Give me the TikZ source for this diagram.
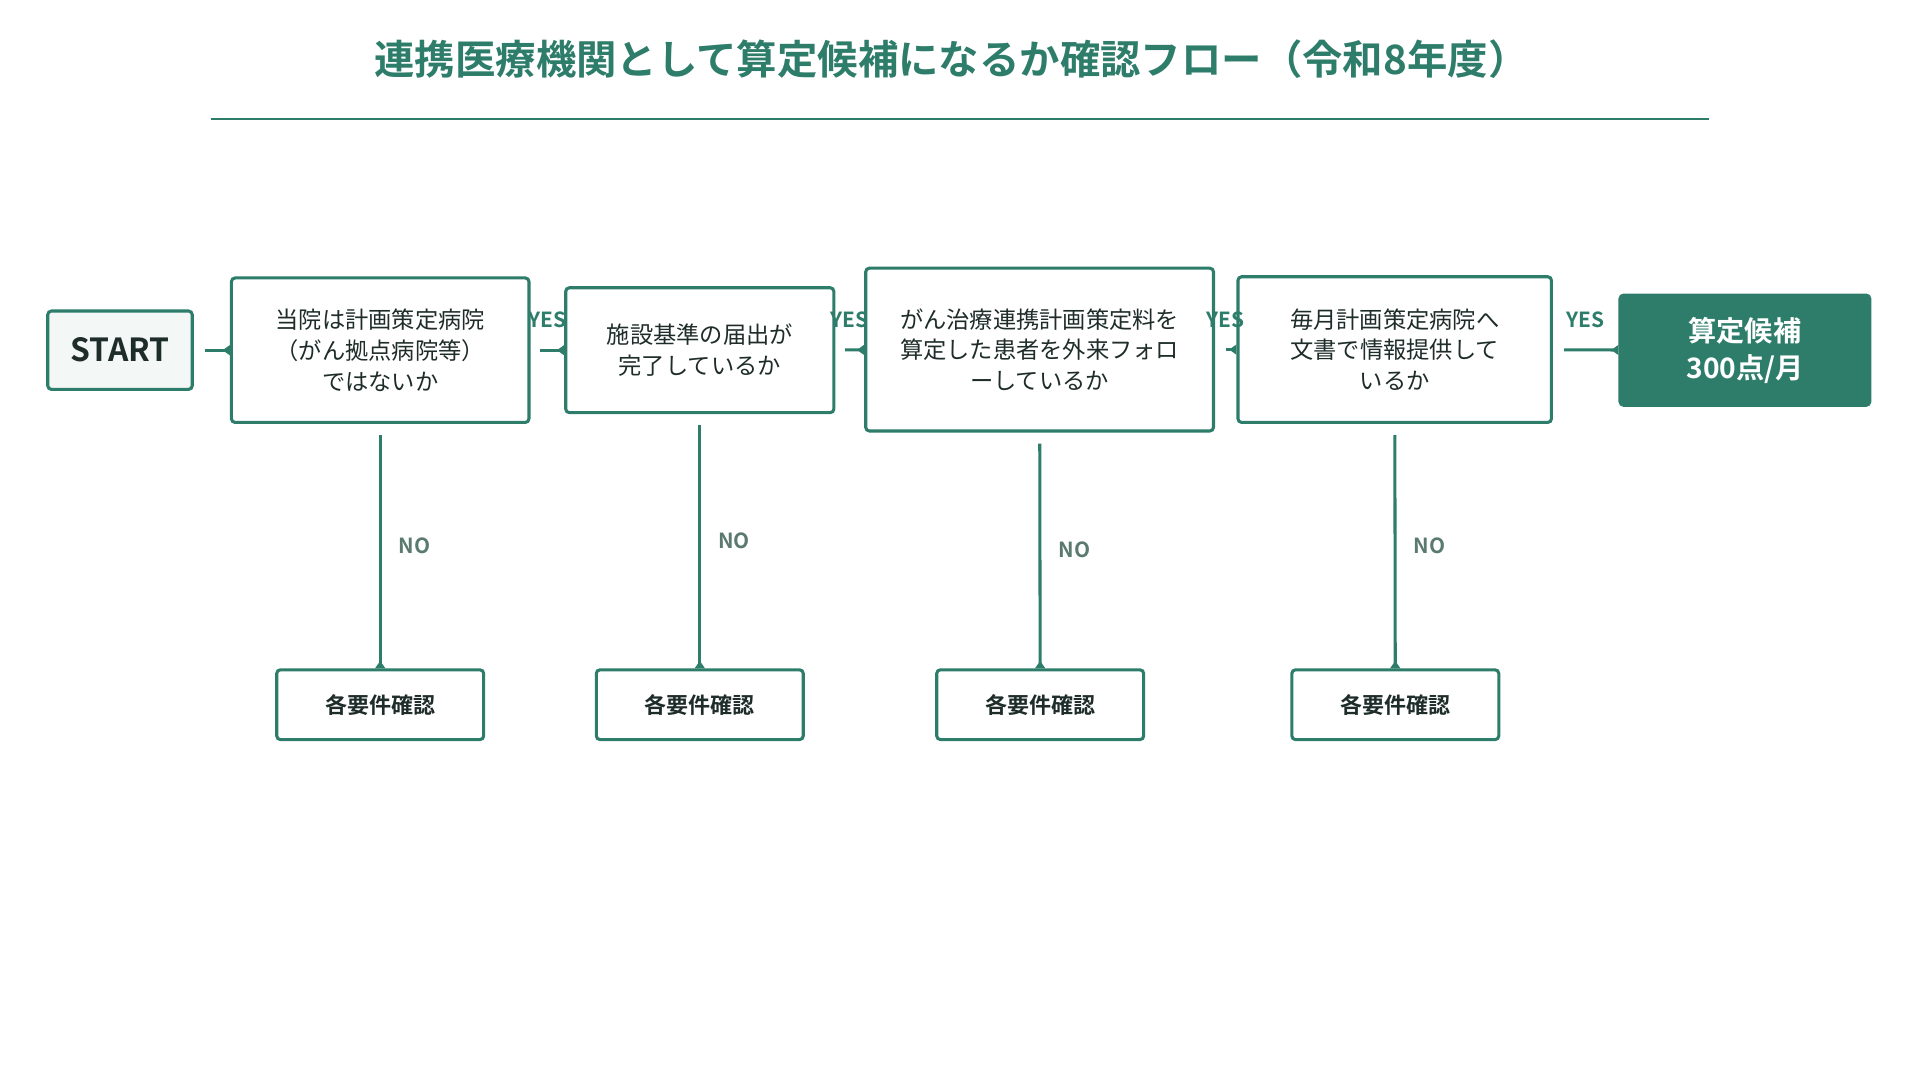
\documentclass[tikz,border=0pt]{standalone}
\usepackage{fontspec}
\setmainfont{Noto Sans CJK JP}
\newfontfamily\jpb{Noto Sans CJK JP Bold}
\usetikzlibrary{arrows.meta}
\definecolor{gr}{HTML}{2E7D6B}
\definecolor{dk}{HTML}{1F2D2A}
\definecolor{ng}{HTML}{5A7A70}
\definecolor{lt}{HTML}{F3F8F6}
\begin{document}
\begin{tikzpicture}[x=1pt,y=1pt,
 box/.style={draw=gr,line width=2.5pt,rounded corners=3pt,fill=white,align=center,text=dk,font=\fontsize{19}{25}\selectfont,inner sep=0pt},
 nob/.style={box,minimum width=169pt,minimum height=57pt,font=\jpb\fontsize{18}{22}\selectfont},
 con/.style={draw=gr,line width=2.5pt,-{Triangle[length=6pt,width=8pt,reversed]}},
 yes/.style={text=gr,font=\jpb\fontsize{17}{20}\selectfont},
 no/.style={text=ng,font=\jpb\fontsize{17}{20}\selectfont}]
\useasboundingbox (0,0) rectangle (1568,-882);
\node[text=gr,font=\jpb\fontsize{33}{40}\selectfont] (title) at (777,-48) {連携医療機関として算定候補になるか確認フロー（令和8年度）};
\coordinate (r1) at (172,-97); \coordinate (r2) at (1396,-97);
\draw[gr,line width=2pt] (r1) -- (r2);
\node[box,fill=lt,minimum width=118pt,minimum height=64pt,font=\jpb\fontsize{26}{30}\selectfont] (s) at (98,-286) {START};
\node[box,minimum width=243pt,minimum height=118pt] (b1) at (310.5,-286) {当院は計画策定病院\\（がん拠点病院等）\\ではないか};
\node[box,minimum width=219pt,minimum height=102pt] (b2) at (571.5,-286) {施設基準の届出が\\完了しているか};
\node[box,minimum width=284pt,minimum height=133pt] (b3) at (849,-285.5) {がん治療連携計画策定料を\\算定した患者を外来フォロ\\ーしているか};
\node[box,minimum width=256pt,minimum height=119pt] (b4) at (1139,-285.5) {毎月計画策定病院へ\\文書で情報提供して\\いるか};
\node[box,fill=gr,minimum width=204pt,minimum height=90pt,text=white,font=\jpb\fontsize{23}{30}\selectfont] (f) at (1425,-286) {算定候補\\300点/月};
\draw[con,shorten <=9pt] (s) -- (b1);
\draw[con,shorten <=8pt] (b1) -- (b2);
\draw[con,shorten <=8pt] (b2) -- (b3);
\draw[con,shorten <=9pt] (b3) -- (b4);
\draw[con,shorten <=9pt] (b4) -- (f);
\node[yes] (y1) at (447,-261) {YES};
\node[yes] (y2) at (694,-261) {YES};
\node[yes] (y3) at (1001,-261) {YES};
\node[yes] (y4) at (1295,-261) {YES};
\foreach \i/\x/\ny in {1/310.5/446,2/571.5/442,3/849.5/449,4/1139.5/446}{
  \node[nob] (n\i) at (\x,-575.5) {各要件確認};
  \node[no] (l\i) at (\x+28,-\ny) {NO};
  \draw[con,shorten <=9pt] (b\i) -- (n\i);
}
\end{tikzpicture}
\end{document}
